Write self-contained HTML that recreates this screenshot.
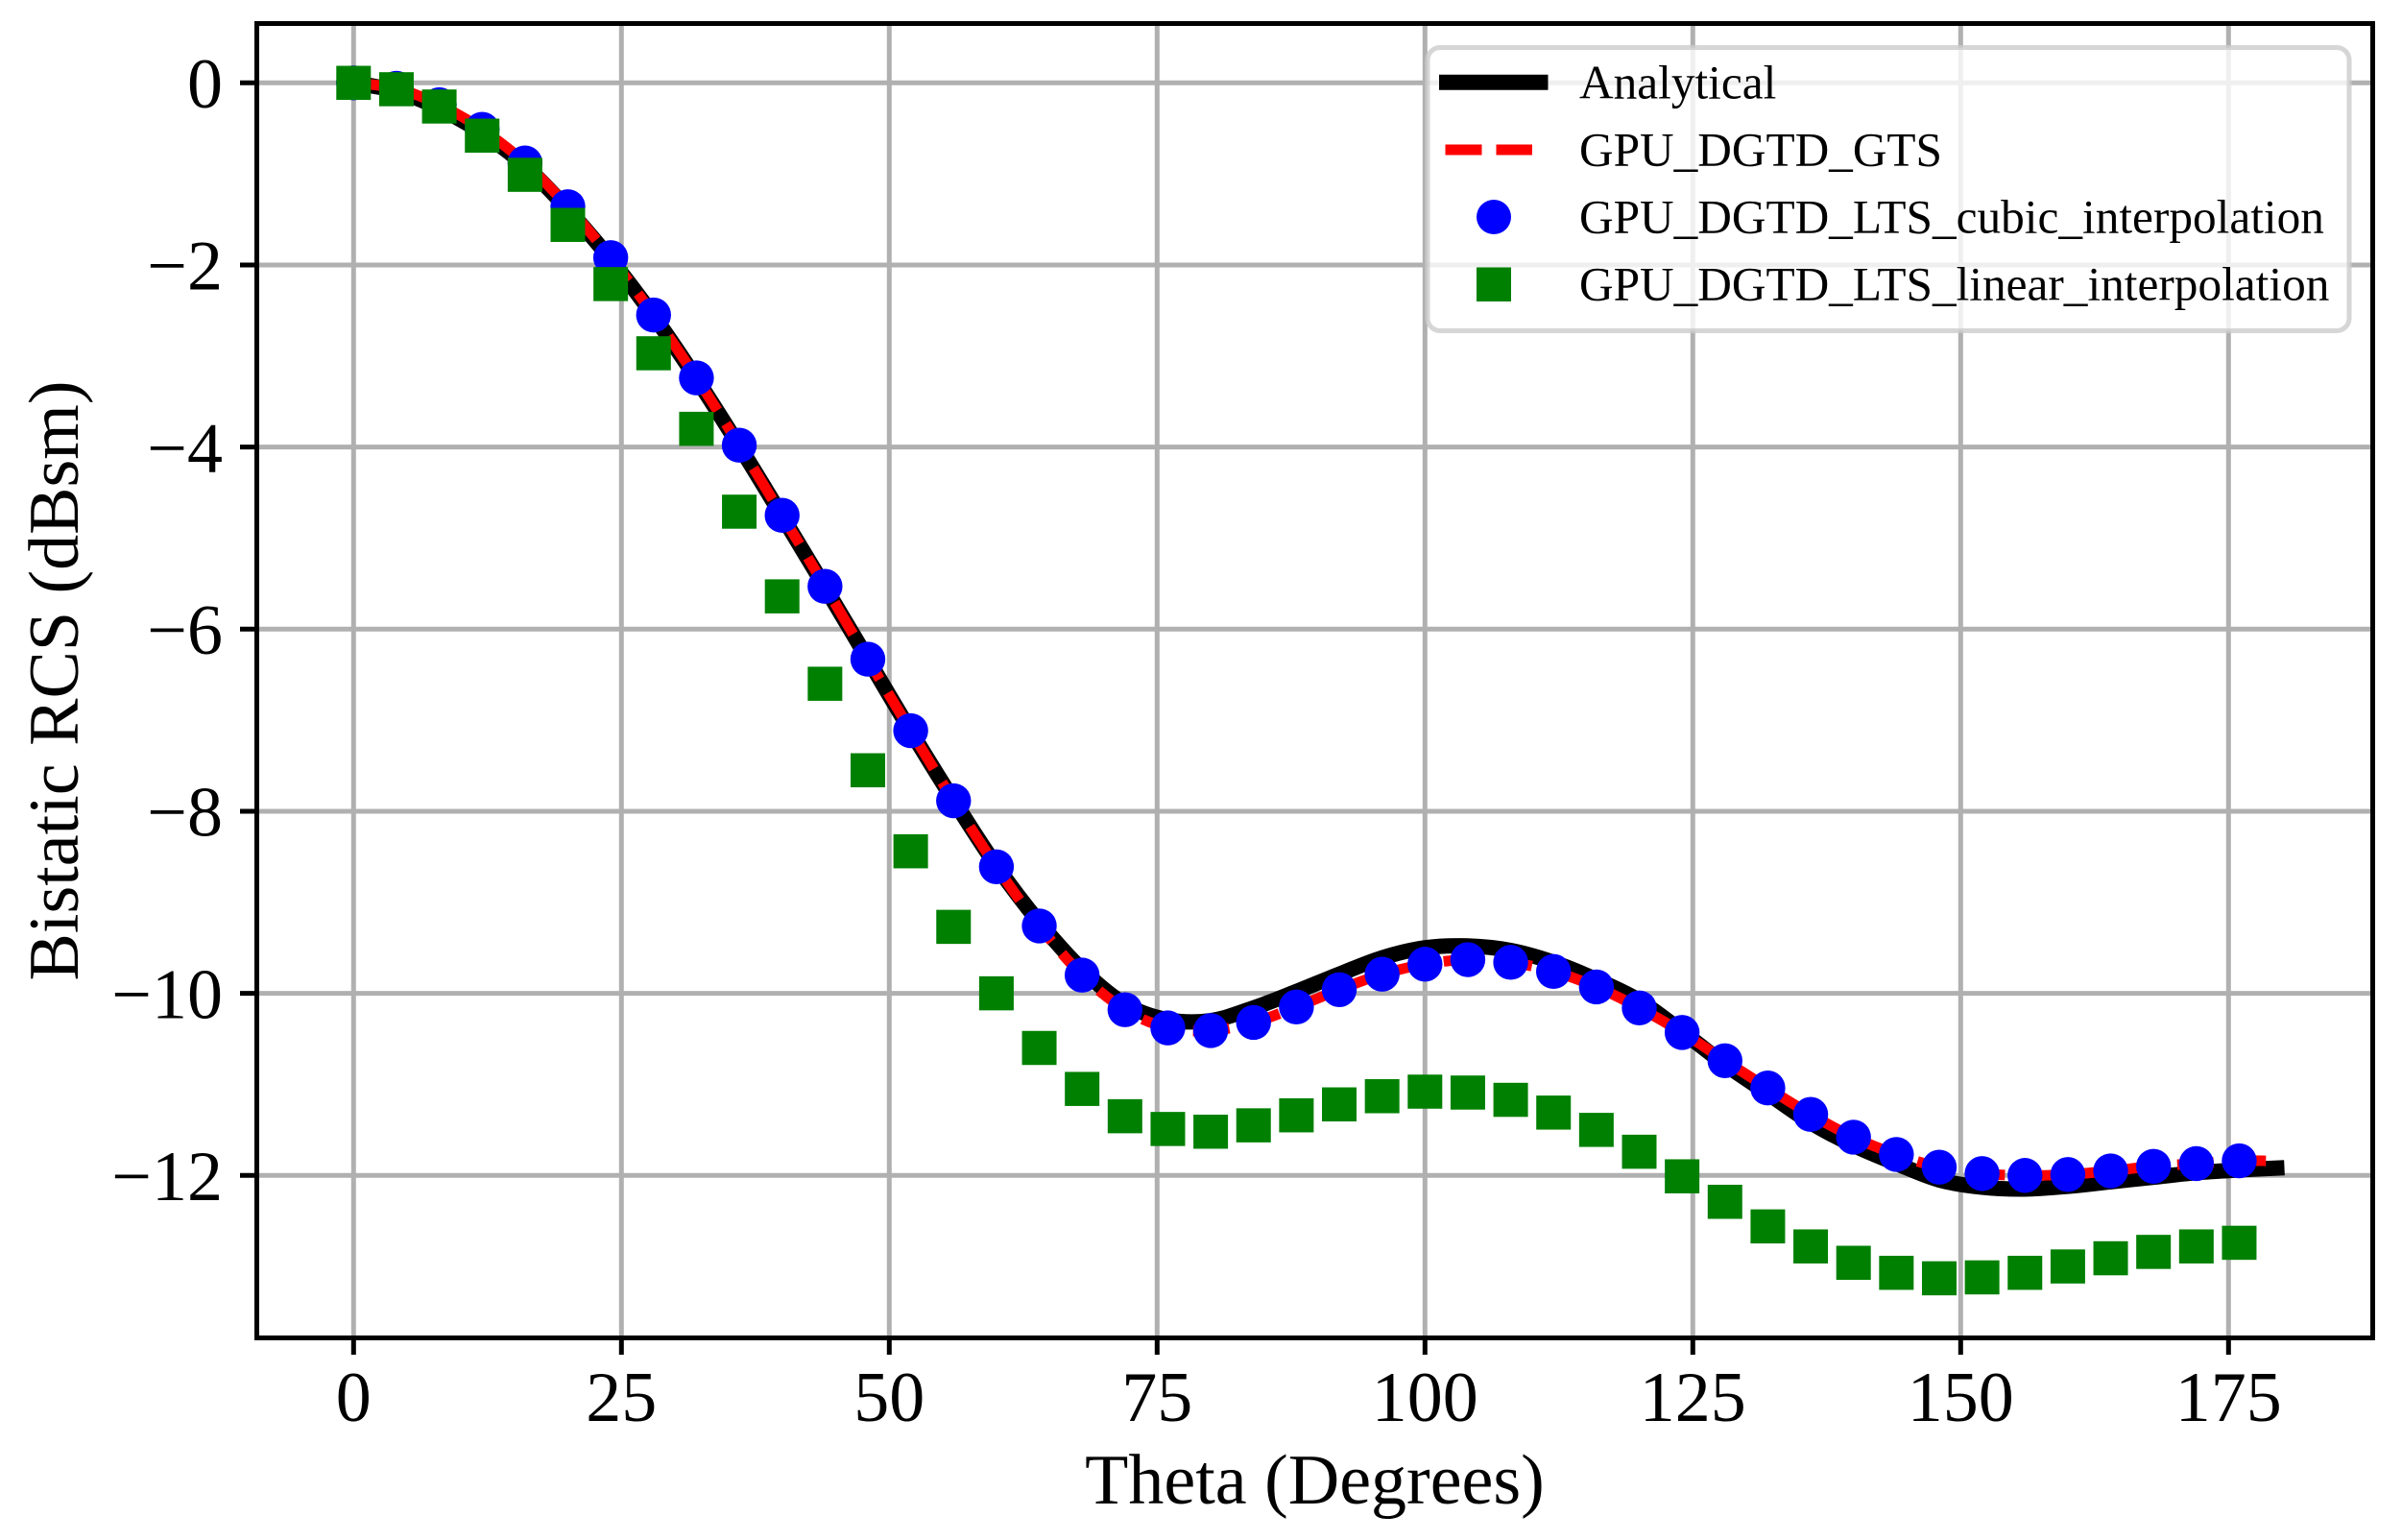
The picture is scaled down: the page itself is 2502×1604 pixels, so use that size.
<!DOCTYPE html>
<html lang="en">
<head>
<meta charset="utf-8">
<title>Bistatic RCS vs Theta</title>
<style>
html,body{margin:0;padding:0;background:#fff;}
svg{display:block;}
text{font-family:"Liberation Serif","Times New Roman",serif;fill:#000;}
</style>
</head>
<body>
<svg id="chart" xmlns="http://www.w3.org/2000/svg" width="2502" height="1604" viewBox="0 0 2502 1604">
  <rect x="0" y="0" width="2502" height="1604" fill="#ffffff"/>
  <g id="grid"></g>
  <g id="series"></g>
  <g id="ticks"></g>
  <rect x="267.5" y="24.5" width="2204" height="1369" fill="none" stroke="#000" stroke-width="5"/>
  <text x="1369.5" y="1566" font-size="74" text-anchor="middle">Theta (Degrees)</text>
  <text transform="translate(81,709) rotate(-90)" font-size="74" text-anchor="middle">Bistatic RCS (dBsm)</text>
  <g>
    <rect x="1487" y="49.5" width="960" height="295" rx="13" ry="13" fill="#ffffff" fill-opacity="0.8" stroke="#cccccc" stroke-opacity="0.8" stroke-width="5"/>
    <line x1="1499" y1="85.7" x2="1612.5" y2="85.7" stroke="#000" stroke-width="16"/>
    <line x1="1505.5" y1="156" x2="1596" y2="156" stroke="#ff0000" stroke-width="11" stroke-dasharray="38 15"/>
    <circle cx="1556" cy="226" r="18" fill="#0000ff"/>
    <rect x="1538" y="278.5" width="36" height="35.5" fill="#008000"/>
    <text x="1645" y="102.7" font-size="49.3">Analytical</text>
    <text x="1645" y="172.7" font-size="49.3">GPU_DGTD_GTS</text>
    <text x="1645" y="242.7" font-size="49.3">GPU_DGTD_LTS_cubic_interpolation</text>
    <text x="1645" y="312.7" font-size="49.3">GPU_DGTD_LTS_linear_interpolation</text>
  </g>
</svg>
<script>
var xTickValues = [0, 25, 50, 75, 100, 125, 150, 175];
var yTickValues = [0, -2, -4, -6, -8, -10, -12];
var xTickLabels = ["0", "25", "50", "75", "100", "125", "150", "175"];
var yTickLabels = ["0", "\u22122", "\u22124", "\u22126", "\u22128", "\u221210", "\u221212"];

var markerTheta = [0,4,8,12,16,20,24,28,32,36,40,44,48,52,56,60,64,68,72,76,80,84,88,92,96,100,104,108,112,116,120,124,128,132,136,140,144,148,152,156,160,164,168,172,176];
var analyticalTheta = [0,4,8,12,16,20,24,28,32,36,40,44,48,52,56,60,64,68,72,76,80,84,88,92,96,100,104,108,112,116,120,124,128,132,136,140,144,148,152,156,160,164,168,172,176,179.5];
var analyticalValues = [0,-0.09,-0.28,-0.55,-0.91,-1.39,-1.94,-2.56,-3.25,-3.99,-4.76,-5.54,-6.33,-7.12,-7.88,-8.6,-9.22,-9.74,-10.12,-10.29,-10.3,-10.16,-9.98,-9.79,-9.61,-9.5,-9.48,-9.53,-9.66,-9.85,-10.08,-10.42,-10.78,-11.1,-11.42,-11.67,-11.87,-12.05,-12.13,-12.15,-12.12,-12.07,-12.02,-11.97,-11.94,-11.92];
var gtsTheta = [0,4,8,12,16,20,24,28,32,36,40,44,48,52,56,60,64,68,72,76,80,84,88,92,96,100,104,108,112,116,120,124,128,132,136,140,144,148,152,156,160,164,168,172,176,178.7];
var gtsValues = [0,-0.06,-0.24,-0.51,-0.88,-1.36,-1.92,-2.55,-3.24,-3.98,-4.75,-5.53,-6.33,-7.115,-7.885,-8.61,-9.26,-9.8,-10.18,-10.38,-10.41,-10.32,-10.15,-9.96,-9.79,-9.68,-9.63,-9.66,-9.76,-9.93,-10.16,-10.43,-10.74,-11.04,-11.33,-11.58,-11.77,-11.91,-11.98,-12,-11.99,-11.95,-11.9,-11.87,-11.84,-11.84];
var cubicValues = [0,-0.06,-0.24,-0.51,-0.88,-1.36,-1.92,-2.55,-3.24,-3.98,-4.75,-5.53,-6.33,-7.115,-7.885,-8.61,-9.26,-9.8,-10.18,-10.38,-10.41,-10.32,-10.15,-9.96,-9.79,-9.68,-9.63,-9.66,-9.76,-9.93,-10.16,-10.43,-10.74,-11.04,-11.33,-11.58,-11.77,-11.91,-11.98,-12,-11.99,-11.95,-11.9,-11.87,-11.84];
var linearValues = [0,-0.07,-0.26,-0.58,-1.01,-1.56,-2.21,-2.97,-3.8,-4.71,-5.64,-6.6,-7.55,-8.44,-9.27,-10,-10.6,-11.05,-11.35,-11.49,-11.52,-11.45,-11.34,-11.22,-11.13,-11.08,-11.09,-11.17,-11.31,-11.5,-11.74,-12.01,-12.29,-12.56,-12.78,-12.96,-13.07,-13.13,-13.12,-13.07,-13,-12.91,-12.84,-12.78,-12.74];

var SVG_NS = "http://www.w3.org/2000/svg";
function xScale(t) { return 368.3 + t * 11.16; }
function yScale(v) { return 86.3 - v * 94.83; }

function smoothPath(xs, ys) {
  var pts = xs.map(function (t, i) { return [xScale(t), yScale(ys[i])]; });
  var d = "M" + pts[0][0].toFixed(2) + " " + pts[0][1].toFixed(2);
  for (var i = 0; i < pts.length - 1; i++) {
    var p0 = pts[Math.max(i - 1, 0)], p1 = pts[i], p2 = pts[i + 1], p3 = pts[Math.min(i + 2, pts.length - 1)];
    var c1x = p1[0] + (p2[0] - p0[0]) / 6, c1y = p1[1] + (p2[1] - p0[1]) / 6;
    var c2x = p2[0] - (p3[0] - p1[0]) / 6, c2y = p2[1] - (p3[1] - p1[1]) / 6;
    d += "C" + c1x.toFixed(2) + " " + c1y.toFixed(2) + " " + c2x.toFixed(2) + " " + c2y.toFixed(2) + " " + p2[0].toFixed(2) + " " + p2[1].toFixed(2);
  }
  return d;
}

function make(tag, attrs, parent) {
  var el = document.createElementNS(SVG_NS, tag);
  for (var k in attrs) { el.setAttribute(k, attrs[k]); }
  parent.appendChild(el);
  return el;
}

var gridLayer = document.getElementById("grid");
var tickLayer = document.getElementById("ticks");
var seriesLayer = document.getElementById("series");

xTickValues.forEach(function (t, i) {
  var px = xScale(t);
  var g = make("line", {x1: px, x2: px, y1: 24.5, y2: 1393.5, stroke: "#b0b0b0", "stroke-width": 5}, gridLayer);
  
  
  var m = make("line", {x1: px, x2: px, y1: 1393.5, y2: 1411, stroke: "#000", "stroke-width": 5}, tickLayer);
  
  
  var l = make("text", {x: px, y: 1480, "font-size": 74, "text-anchor": "middle"}, tickLayer);
  
  
  l.textContent = xTickLabels[i];
});

yTickValues.forEach(function (v, i) {
  var py = yScale(v);
  var g = make("line", {x1: 267.5, x2: 2471.5, y1: py, y2: py, stroke: "#b0b0b0", "stroke-width": 5}, gridLayer);
  
  
  var m = make("line", {x1: 250, x2: 267.5, y1: py, y2: py, stroke: "#000", "stroke-width": 5}, tickLayer);
  
  
  var l = make("text", {x: 232, y: py + 25.7, "font-size": 74, "text-anchor": "end"}, tickLayer);
  
  
  l.textContent = yTickLabels[i];
});

var analyticalLine = make("path", {d: smoothPath(analyticalTheta, analyticalValues), fill: "none", stroke: "#000", "stroke-width": 16, "stroke-linecap": "square", "stroke-linejoin": "round"}, seriesLayer);



var gtsLine = make("path", {d: smoothPath(gtsTheta, gtsValues), fill: "none", stroke: "#ff0000", "stroke-width": 11, "stroke-dasharray": "38 16.5"}, seriesLayer);



markerTheta.forEach(function (t, i) {
  var c = make("circle", {cx: xScale(t), cy: yScale(cubicValues[i]), r: 18.2, fill: "#0000ff"}, seriesLayer);
  
  
});

markerTheta.forEach(function (t, i) {
  var s = make("rect", {x: xScale(t) - 18, y: yScale(linearValues[i]) - 17.75, width: 36, height: 35.5, fill: "#008000"}, seriesLayer);
  
  
});
</script>
</body>
</html>
